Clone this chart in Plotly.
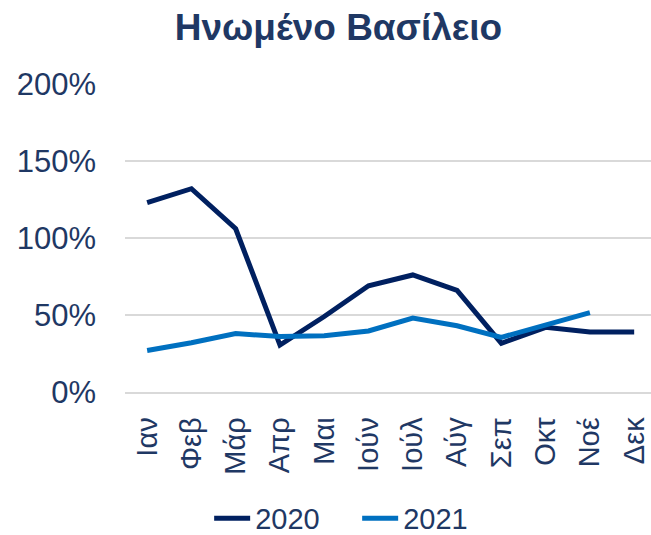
import plotly.graph_objects as go

months = ["Ιαν", "Φεβ", "Μάρ", "Απρ", "Μαι", "Ιούν", "Ιούλ", "Αύγ", "Σεπ", "Οκτ", "Νοέ", "Δεκ"]
y2020 = [1.23, 1.32, 1.06, 0.305, 0.49, 0.69, 0.76, 0.66, 0.316, 0.42, 0.39, 0.39]
y2021 = [0.27, 0.32, 0.38, 0.36, 0.365, 0.396, 0.48, 0.43, 0.355, 0.435, 0.515]
months2021 = months[:len(y2021)]

text_color = "#1F3864"
font_family = "Liberation Sans, Arial, sans-serif"

fig = go.Figure()
fig.add_trace(go.Scatter(x=months, y=y2020, mode="lines", name="2020",
                         line=dict(color="#002060", width=5)))
fig.add_trace(go.Scatter(x=months2021, y=y2021, mode="lines", name="2021",
                         line=dict(color="#0070C0", width=5)))

fig.update_layout(
    width=651, height=535,
    paper_bgcolor="white", plot_bgcolor="white",
    margin=dict(l=125, r=0, t=84, b=143, autoexpand=False),
    font=dict(family=font_family, color=text_color),
    title=dict(text="<b>Ηνωμένο Βασίλειο</b>", x=0.52, xanchor="center",
               y=0.95, yanchor="middle",
               font=dict(size=37, color=text_color, family=font_family)),
    showlegend=True,
    legend=dict(orientation="h", x=0.16, xanchor="left", y=-0.41, yanchor="middle",
                font=dict(size=29, color=text_color), itemwidth=36,
                entrywidth=97, entrywidthmode="pixels"),
)
fig.update_yaxes(range=[0, 2.0], tickvals=[0, 0.5, 1.0, 1.5, 2.0], tickformat=".0%",
                 showgrid=True, gridcolor="#D9D9D9", gridwidth=1.5,
                 zeroline=False, showline=False, automargin=False,
                 tickfont=dict(size=31, color=text_color), ticklabelstandoff=28)
fig.update_xaxes(type="category", range=[-0.5, 11.38], tickangle=-90,
                 showgrid=False, showline=True, linecolor="#D9D9D9", linewidth=1.5,
                 automargin=False,
                 tickfont=dict(size=29, color=text_color), ticklabelstandoff=12)

fig.write_html("out.html", config={"displayModeBar": False},
               post_script="document.body.style.margin='0';document.body.style.overflow='hidden';")
